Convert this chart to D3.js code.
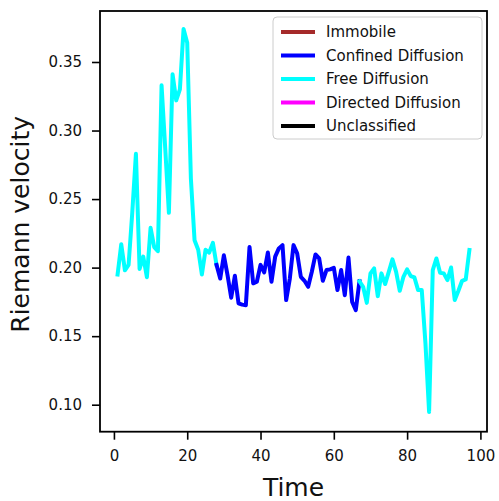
<!DOCTYPE html>
<html>
<head>
<meta charset="utf-8">
<script src="https://cdn.jsdelivr.net/npm/d3@7"></script>
<style>
  html, body { margin: 0; padding: 0; background: #fff; }
  svg { display: block; font-family: "DejaVu Sans", sans-serif; }
</style>
</head>
<body>
<svg id="chart" width="499" height="501"></svg>
<script>
// ---- data ----
const times = [1,2,3,4,5,6,7,8,9,10,11,12,13,14,15,16,17,18,19,20,
  21,22,23,24,25,26,27,28,29,30,31,32,33,34,35,36,37,38,39,40,
  41,42,43,44,45,46,47,48,49,50,51,52,53,54,55,56,57,58,59,60,
  61,62,63,64,65,66,67,68,69,70,71,72,73,74,75,76,77,78,79,80,
  81,82,83,84,85,86,87,88,89,90,91,92,93,94,95,96,97];
const velocity = [
  0.195, 0.217, 0.198, 0.202, 0.240, 0.283, 0.199, 0.208, 0.193, 0.229,
  0.215, 0.212, 0.333, 0.287, 0.240, 0.341, 0.322, 0.330, 0.374, 0.364,
  0.265, 0.220, 0.213, 0.195, 0.213, 0.211, 0.218, 0.202, 0.192, 0.209,
  0.1945, 0.178, 0.194, 0.174, 0.173, 0.1726, 0.215, 0.1885, 0.1897, 0.202,
  0.1965, 0.211, 0.1897, 0.208, 0.214, 0.2164, 0.1763, 0.192, 0.2164, 0.2104,
  0.1933, 0.1904, 0.186, 0.197, 0.2096, 0.2067, 0.1904, 0.1982, 0.1987, 0.1999,
  0.1836, 0.1982, 0.1799, 0.2073, 0.175, 0.169, 0.190, 0.186, 0.1743, 0.1958,
  0.1994, 0.1792, 0.1958, 0.188, 0.1969, 0.206, 0.1969, 0.1831, 0.1933, 0.1987,
  0.1938, 0.1928, 0.1836, 0.1836, 0.145, 0.0947, 0.1982, 0.2067, 0.1962, 0.1958,
  0.1909, 0.2001, 0.1763, 0.1831, 0.1904, 0.1914, 0.2128
];
// classified segments (start time, end time, class)
const segStart = [1, 28, 67];
const segEnd   = [28, 67, 97];
const segClass = ["Free Diffusion", "Confined Diffusion", "Free Diffusion"];

const classNames  = ["Immobile", "Confined Diffusion", "Free Diffusion", "Directed Diffusion", "Unclassified"];
const classColors = ["#a52a2a", "#0000ff", "#00ffff", "#ff00ff", "#000000"];

const xTicks = [0, 20, 40, 60, 80, 100];
const yTicks = [0.10, 0.15, 0.20, 0.25, 0.30, 0.35];

// ---- layout ----
const L = 100, R = 487, T = 11, B = 431.7;
const svg = d3.select("#chart");

const x = d3.scaleLinear().domain([-3.8, 101.8]).range([L, R]);
const y = d3.scaleLinear().domain([0.0803, 0.3872]).range([B, T]);
const color = d3.scaleOrdinal().domain(classNames).range(classColors);

const points = times.map((t, i) => ({ t, v: velocity[i] }));
const line = d3.line().x(d => x(d.t)).y(d => y(d.v));

const plot = svg.append("g");
segStart.forEach((s, i) => {
  const pts = points.filter(p => p.t >= s && p.t <= segEnd[i]);
  plot.append("path")
    .attr("d", line(pts))
    .attr("fill", "none")
    .attr("stroke", color(segClass[i]))
    .attr("stroke-width", 4)
    .attr("stroke-linejoin", "round")
    .attr("stroke-linecap", "square");
});

// axes
const xAxis = d3.axisBottom(x).tickValues(xTicks).tickSize(8).tickPadding(11).tickFormat(d3.format("d"));
const yAxis = d3.axisLeft(y).tickValues(yTicks).tickSize(8).tickPadding(10).tickFormat(d3.format(".2f"));

const gx = svg.append("g").attr("transform", `translate(0,${B})`).call(xAxis);
const gy = svg.append("g").attr("transform", `translate(${L},0)`).call(yAxis);
[gx, gy].forEach(g => {
  g.select(".domain").remove();
  g.selectAll(".tick line").attr("stroke", "#000").attr("stroke-width", 1.6);
  g.selectAll(".tick text").attr("fill", "#111").style("font-size", "15px")
    .style("font-family", "'DejaVu Sans', sans-serif");
});

// frame
svg.append("rect")
  .attr("x", L).attr("y", T).attr("width", R - L).attr("height", B - T)
  .attr("fill", "none").attr("stroke", "#000").attr("stroke-width", 1.8);

// axis labels
svg.append("text")
  .attr("x", (L + R) / 2).attr("y", 496)
  .attr("text-anchor", "middle")
  .style("font-size", "25px").attr("fill", "#111")
  .text("Time");
svg.append("text")
  .attr("transform", `translate(29,${(T + B) / 2 + 3}) rotate(-90)`)
  .attr("text-anchor", "middle")
  .style("font-size", "25px").attr("fill", "#111")
  .text("Riemann velocity");

// legend
const lg = svg.append("g");
lg.append("rect")
  .attr("x", 273).attr("y", 17).attr("width", 209).attr("height", 122)
  .attr("rx", 4).attr("ry", 4)
  .attr("fill", "#fff").attr("fill-opacity", 0.8)
  .attr("stroke", "#cccccc").attr("stroke-width", 1);
classNames.forEach((name, i) => {
  const cy = 32 + i * 23.5;
  lg.append("line")
    .attr("x1", 281).attr("x2", 315).attr("y1", cy).attr("y2", cy)
    .attr("stroke", color(name)).attr("stroke-width", 4);
  lg.append("text")
    .attr("x", 326).attr("y", cy).attr("dy", "0.35em")
    .style("font-size", "15px").attr("fill", "#111")
    .text(name);
});
</script>
</body>
</html>
